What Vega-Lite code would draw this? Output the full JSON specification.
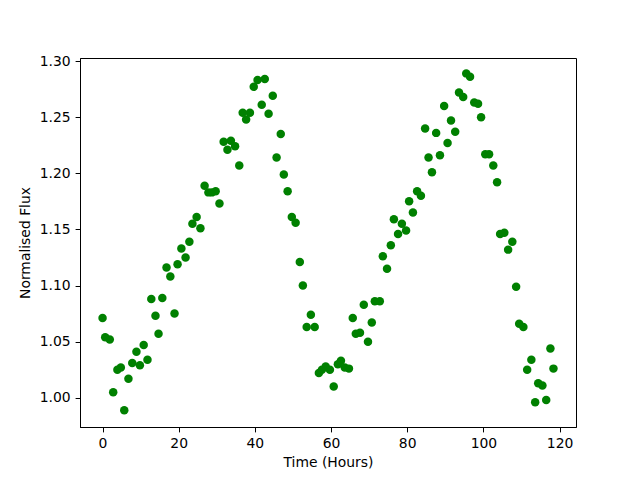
{
  "$schema": "https://vega.github.io/schema/vega-lite/v6.json",
  "width": 496,
  "height": 369,
  "autosize": {"type": "none"},
  "padding": {"left": 80, "top": 58, "right": 64, "bottom": 53},
  "background": "white",
  "config": {
    "view": {"stroke": "black", "strokeWidth": 1},
    "axis": {
      "labelFont": "DejaVu Sans",
      "labelFontSize": 13.9,
      "labelColor": "black",
      "titleFont": "DejaVu Sans",
      "titleFontSize": 13.9,
      "titleFontWeight": "normal",
      "titleColor": "black",
      "domainColor": "black",
      "domainWidth": 1,
      "tickColor": "black",
      "tickWidth": 1,
      "tickSize": 4.9,
      "labelPadding": 4.9,
      "grid": false
    }
  },
  "data": {
    "values": [
      {"t": 0.0, "flux": 1.071}, {"t": 0.7, "flux": 1.054}, {"t": 1.9, "flux": 1.052},
      {"t": 2.8, "flux": 1.005}, {"t": 3.9, "flux": 1.025}, {"t": 4.8, "flux": 1.027},
      {"t": 5.7, "flux": 0.989}, {"t": 6.8, "flux": 1.017}, {"t": 7.8, "flux": 1.031},
      {"t": 8.9, "flux": 1.041}, {"t": 9.8, "flux": 1.029}, {"t": 10.8, "flux": 1.047},
      {"t": 11.8, "flux": 1.034}, {"t": 12.8, "flux": 1.088}, {"t": 13.9, "flux": 1.073},
      {"t": 14.7, "flux": 1.057}, {"t": 15.7, "flux": 1.089}, {"t": 16.8, "flux": 1.116},
      {"t": 17.8, "flux": 1.108}, {"t": 18.9, "flux": 1.075}, {"t": 19.7, "flux": 1.119},
      {"t": 20.7, "flux": 1.133}, {"t": 21.8, "flux": 1.125}, {"t": 22.8, "flux": 1.139},
      {"t": 23.6, "flux": 1.155}, {"t": 24.7, "flux": 1.161}, {"t": 25.7, "flux": 1.151},
      {"t": 26.8, "flux": 1.189}, {"t": 27.8, "flux": 1.183}, {"t": 28.7, "flux": 1.183},
      {"t": 29.7, "flux": 1.184}, {"t": 30.7, "flux": 1.173}, {"t": 31.8, "flux": 1.228},
      {"t": 32.8, "flux": 1.221}, {"t": 33.7, "flux": 1.229}, {"t": 34.8, "flux": 1.224},
      {"t": 35.9, "flux": 1.207}, {"t": 36.8, "flux": 1.254}, {"t": 37.7, "flux": 1.248},
      {"t": 38.7, "flux": 1.254}, {"t": 39.7, "flux": 1.277}, {"t": 40.7, "flux": 1.283},
      {"t": 41.8, "flux": 1.261}, {"t": 42.6, "flux": 1.284}, {"t": 43.6, "flux": 1.253},
      {"t": 44.7, "flux": 1.269}, {"t": 45.7, "flux": 1.214}, {"t": 46.8, "flux": 1.235},
      {"t": 47.6, "flux": 1.199}, {"t": 48.6, "flux": 1.184}, {"t": 49.7, "flux": 1.161},
      {"t": 50.7, "flux": 1.156}, {"t": 51.8, "flux": 1.121}, {"t": 52.6, "flux": 1.100},
      {"t": 53.6, "flux": 1.063}, {"t": 54.7, "flux": 1.074}, {"t": 55.7, "flux": 1.063},
      {"t": 56.8, "flux": 1.022}, {"t": 57.6, "flux": 1.025}, {"t": 58.6, "flux": 1.028},
      {"t": 59.7, "flux": 1.025}, {"t": 60.7, "flux": 1.010}, {"t": 61.8, "flux": 1.030},
      {"t": 62.6, "flux": 1.033}, {"t": 63.6, "flux": 1.027}, {"t": 64.7, "flux": 1.026},
      {"t": 65.7, "flux": 1.071}, {"t": 66.5, "flux": 1.057}, {"t": 67.6, "flux": 1.058},
      {"t": 68.6, "flux": 1.083}, {"t": 69.7, "flux": 1.050}, {"t": 70.7, "flux": 1.067},
      {"t": 71.5, "flux": 1.086}, {"t": 72.8, "flux": 1.086}, {"t": 73.6, "flux": 1.126},
      {"t": 74.7, "flux": 1.115}, {"t": 75.7, "flux": 1.136}, {"t": 76.5, "flux": 1.159},
      {"t": 77.6, "flux": 1.146}, {"t": 78.6, "flux": 1.155}, {"t": 79.7, "flux": 1.149},
      {"t": 80.5, "flux": 1.175}, {"t": 81.5, "flux": 1.165}, {"t": 82.6, "flux": 1.184},
      {"t": 83.6, "flux": 1.180}, {"t": 84.7, "flux": 1.240}, {"t": 85.6, "flux": 1.214},
      {"t": 86.5, "flux": 1.201}, {"t": 87.6, "flux": 1.236}, {"t": 88.6, "flux": 1.216},
      {"t": 89.7, "flux": 1.260}, {"t": 90.6, "flux": 1.227}, {"t": 91.5, "flux": 1.247},
      {"t": 92.6, "flux": 1.237}, {"t": 93.6, "flux": 1.272}, {"t": 94.7, "flux": 1.268},
      {"t": 95.5, "flux": 1.289}, {"t": 96.5, "flux": 1.286}, {"t": 97.6, "flux": 1.263},
      {"t": 98.6, "flux": 1.262}, {"t": 99.4, "flux": 1.250}, {"t": 100.5, "flux": 1.217},
      {"t": 101.5, "flux": 1.217}, {"t": 102.6, "flux": 1.207}, {"t": 103.6, "flux": 1.192},
      {"t": 104.4, "flux": 1.146}, {"t": 105.5, "flux": 1.147}, {"t": 106.5, "flux": 1.132},
      {"t": 107.6, "flux": 1.139}, {"t": 108.6, "flux": 1.099}, {"t": 109.4, "flux": 1.066},
      {"t": 110.5, "flux": 1.063}, {"t": 111.5, "flux": 1.025}, {"t": 112.6, "flux": 1.034},
      {"t": 113.6, "flux": 0.996}, {"t": 114.4, "flux": 1.013}, {"t": 115.5, "flux": 1.011},
      {"t": 116.5, "flux": 0.998}, {"t": 117.6, "flux": 1.044}, {"t": 118.4, "flux": 1.026}
    ]
  },
  "mark": {"type": "circle", "color": "#008000", "opacity": 1, "size": 72},
  "encoding": {
    "x": {
      "field": "t",
      "type": "quantitative",
      "scale": {"domain": [-5.92, 124.32], "nice": false, "zero": false},
      "axis": {"values": [0, 20, 40, 60, 80, 100, 120], "title": "Time (Hours)", "titlePadding": 5}
    },
    "y": {
      "field": "flux",
      "type": "quantitative",
      "scale": {"domain": [0.974, 1.3027], "nice": false, "zero": false},
      "axis": {"values": [1.0, 1.05, 1.1, 1.15, 1.2, 1.25, 1.3], "format": ".2f", "title": "Normalised Flux", "titlePadding": 7}
    }
  }
}
